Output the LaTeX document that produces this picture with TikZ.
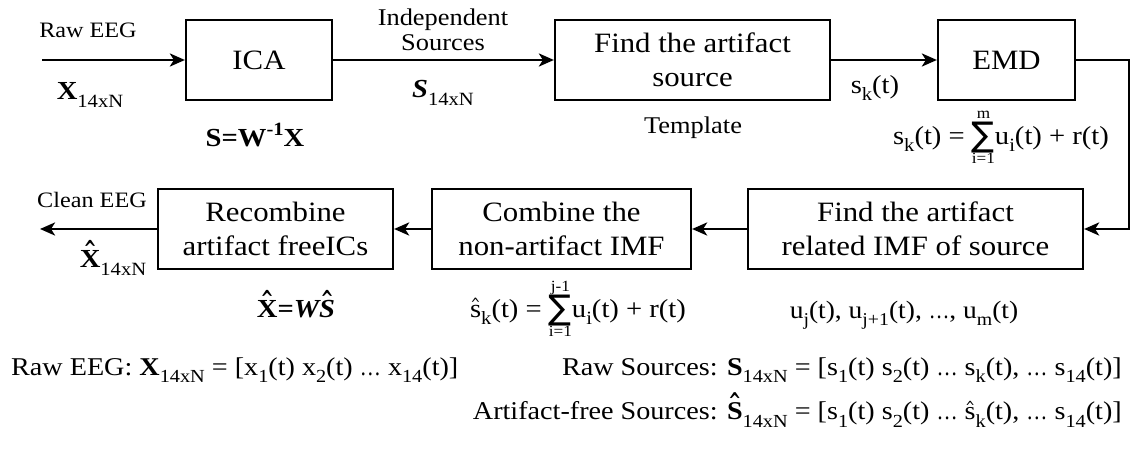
\documentclass[tikz,border=0pt]{standalone}
\usepackage{fontspec}
\usepackage{graphicx}
\setmainfont{Liberation Serif}[FakeStretch=1.1]
\newfontfamily\symfont{DejaVu Sans}
\usetikzlibrary{arrows.meta}

% font size helper (size, baselineskip in bp)
\newcommand\fs[2]{\fontsize{#1bp}{#2bp}\selectfont}
% lowered and raised small indices
\newcommand\lo[1]{\raisebox{-0.3em}{\scalebox{0.72}{#1}}}
\newcommand\hi[1]{\raisebox{0.42em}{\scalebox{0.72}{#1}}}
% narrow ellipsis
\newcommand\ldt{\scalebox{0.75}[1]{…}}
% circumflex over a capital and over a small letter
\newcommand\hatcap[1]{\setbox0\hbox{#1}%
  \rlap{\hbox to\wd0{\hss\raisebox{0.44em}{\scalebox{0.6}[0.85]{\symfont\bfseries\char"5E}}\hss}}\box0}
\newcommand\hatlow[1]{\setbox0\hbox{#1}%
  \rlap{\hbox to\wd0{\hss\raisebox{0.3em}{\scalebox{0.45}[0.6]{\symfont\char"5E}}\hss}}\box0}
% summation sign with limits below and above
\newcommand\summ[2]{{\renewcommand\arraystretch{0.5}%
  \begin{tabular}[c]{@{}c@{}}\scalebox{0.6}{#2}\\[-1bp]%
  {\symfont\fontsize{34bp}{34bp}\selectfont\char"2211}\\[1bp]%
  \scalebox{0.6}{#1}\end{tabular}}}

\tikzset{
  box/.style={draw, line width=2.2bp, minimum height=80bp, inner sep=0pt,
    align=center, font=\fs{28}{34}},
  arr/.style={line width=2.8bp,
    -{Stealth[length=15bp,width=13bp,inset=4bp]}},
  lbl/.style={inner sep=0pt, align=center, font=\fs{22}{24}},
  lblw/.style={lbl, font=\fs{24}{25}},
  sym/.style={inner sep=0pt, font=\fs{26}{30}},
  def/.style={inner sep=0pt, font=\fs{25.6}{30}},
}

\begin{document}
\begin{tikzpicture}[x=1bp,y=-1bp]
\useasboundingbox (0,0) rectangle (1132,452);

% processing blocks
\node[box, minimum width=146bp] (ica)  at (259,60)     {ICA};
\node[box, minimum width=275bp] (src)  at (692.5,60)   {Find the artifact\\source};
\node[box, minimum width=137bp] (emd)  at (1006.5,60)  {EMD};
\node[box, minimum width=335bp] (imf)  at (915.5,229)  {Find the artifact\\related IMF of source};
\node[box, minimum width=259bp] (comb) at (561.5,229)  {Combine the\\non-artifact IMF};
\node[box, minimum width=235bp] (rec)  at (275.5,229)  {Recombine\\artifact freeICs};

% free ends and the bend of the feedback line
\coordinate (in)   at (42,60);
\coordinate (out)  at (40,229);
\coordinate (bend) at (1129,60);

% signal flow
\draw[arr] (in) -- (ica);
\draw[arr] (ica) -- (src);
\draw[arr] (src) -- (emd);
\draw[arr] (emd.east) -- (bend) |- (imf.east);
\draw[arr] (imf) -- (comb);
\draw[arr] (comb) -- (rec);
\draw[arr] (rec) -- (out);

% labels of the first row
\node[lbl] (rawlbl) at (88,30) {Raw EEG};
\node[sym] (xin) at (90,95) {\textbf{X}\lo{14xN}};
\node[sym] (icaeq) at (255,135) {\textbf{S=W\hi{-1}X}};
\node[lblw] (indep) at (443,30) {Independent\\Sources};
\node[sym] (sin) at (443,93) {\textbf{\textit{S}}\lo{14xN}};
\node[lblw] (tmpl) at (693,128) {Template};
\node[sym] (sk) at (875,88) {s\lo{k}(t)};
\node[sym] (emdeq) at (1001,138) {s\lo{k}(t) = \summ{i=1}{m}u\lo{i}(t) + r(t)};

% labels of the second row
\node[lbl] (clean) at (92,200) {Clean EEG};
\node[sym] (xout) at (113,258) {\hatcap{\textbf{X}}\lo{14xN}};
\node[sym] (receq) at (296,304) {\textbf{\hatcap{X}=\textit{W\hatcap{S}}}};
\node[sym] (combeq) at (578,311) {\hatlow{s}\lo{k}(t) = \summ{i=1}{j-1}u\lo{i}(t) + r(t)};
\node[sym, font=\fs{25}{30}] (imfs) at (904,315) {u\lo{j}(t), u\lo{j+1}(t), \ldt, u\lo{m}(t)};

% signal definitions
\node[def, anchor=west] (defx) at (11,370)
  {Raw EEG: \textbf{X}\lo{14xN} = [x\lo{1}(t) x\lo{2}(t) \ldt{} x\lo{14}(t)]};
\node[def, anchor=east] (defs) at (1122,370)
  {Raw Sources: \textbf{S}\lo{14xN} = [s\lo{1}(t) s\lo{2}(t) \ldt{} s\lo{k}(t), \ldt{} s\lo{14}(t)]};
\node[def, anchor=east] (defsh) at (1122,410)
  {Artifact-free Sources: \hatcap{\textbf{S}}\lo{14xN} = [s\lo{1}(t) s\lo{2}(t) \ldt{} \hatlow{s}\lo{k}(t), \ldt{} s\lo{14}(t)]};
\end{tikzpicture}
\end{document}
